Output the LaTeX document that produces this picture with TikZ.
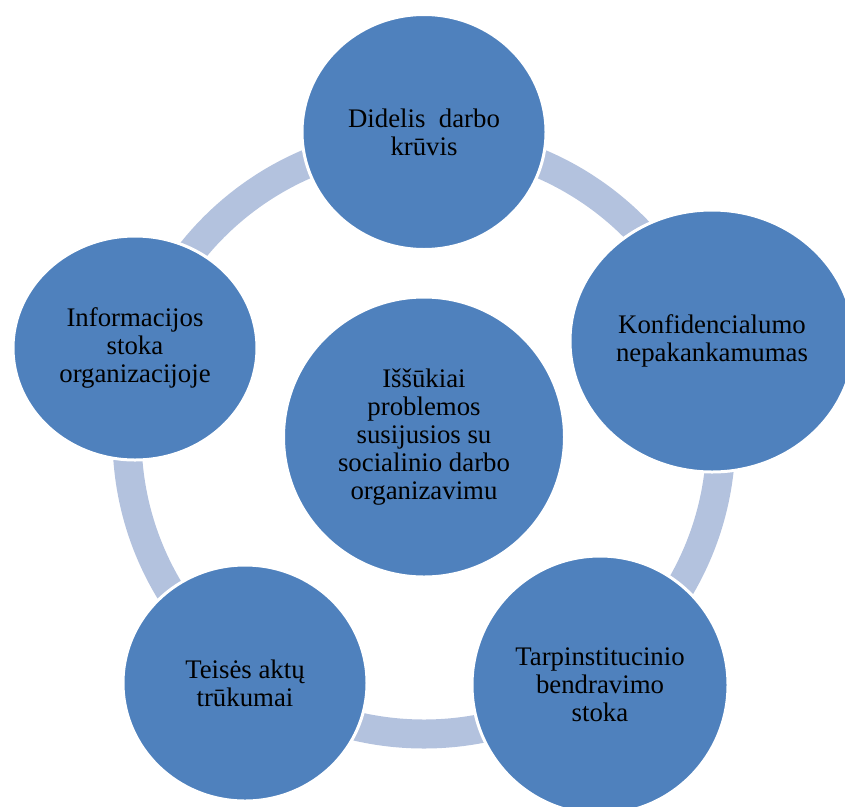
\documentclass[tikz,border=0pt]{standalone}
\usepackage{fontspec}
\setmainfont{Liberation Serif}
\usetikzlibrary{shapes.geometric}
\definecolor{blobblue}{HTML}{4F81BD}
\definecolor{ringblue}{HTML}{B3C2DE}

\begin{document}
\begin{tikzpicture}[x=1pt,y=-1pt]%
\useasboundingbox (0,0) rectangle (845,806);
\begin{scope}[shape=ellipse,inner sep=0pt]%
\tikzstyle{every node}=[fill=blobblue,draw=white,line width=3pt,align=center,font=\fontsize{26.8}{28}\selectfont] %%
\node[minimum width=281pt,minimum height=280pt] (ctr) at (424,437) {Iššūkiai\\problemos\\susijusios su\\socialinio darbo\\organizavimu}; %%
\draw[ringblue,line width=29pt] (ctr) circle[radius=297pt]; %%
\node[minimum width=244pt,minimum height=235pt] (load) at (424,132) {Didelis~ darbo\\krūvis}; %%
\node[minimum width=284pt,minimum height=262pt] (conf) at (712,341) {Konfidencialumo\\nepakankamumas}; %%
\node[minimum width=256pt,minimum height=258pt] (comm) at (600,685) {Tarpinstitucinio\\bendravimo\\stoka}; %%
\node[minimum width=244pt,minimum height=236pt] (law) at (245,683) {Teisės aktų\\trūkumai}; %%
\node[minimum width=244pt,minimum height=224pt] (info) at (135,348) {Informacijos\\stoka\\organizacijoje}; %%
\end{scope}
\end{tikzpicture}
\end{document}
